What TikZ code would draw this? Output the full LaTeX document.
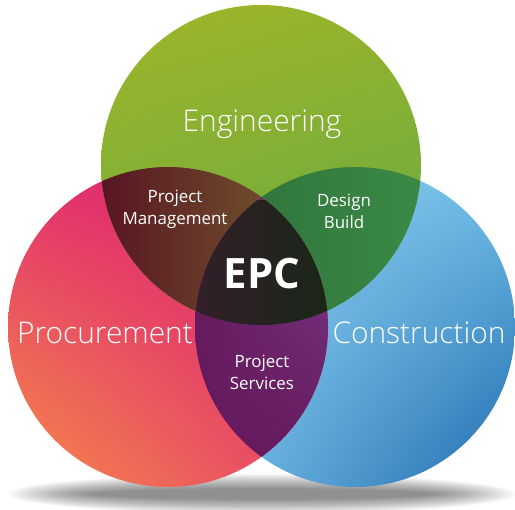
\documentclass[tikz,border=0pt]{standalone}
\usepackage{fontspec}
\usetikzlibrary{shadings}
\setmainfont{Open Sans}
\IfFontExistsTF{Open Sans Light}{\newfontfamily\lightfont{Open Sans Light}}{\newfontfamily\lightfont{Open Sans}}
\definecolor{gUL}{HTML}{9DB62A}
\definecolor{gUR}{HTML}{93B32D}
\definecolor{gLL}{HTML}{76AC3B}
\definecolor{gLR}{HTML}{64A844}
\definecolor{pUL}{HTML}{E2306D}
\definecolor{pUR}{HTML}{DC1A73}
\definecolor{pLL}{HTML}{F68C48}
\definecolor{pLR}{HTML}{E6416A}
\definecolor{bUL}{HTML}{92D2F1}
\definecolor{bUR}{HTML}{70BDE7}
\definecolor{bLL}{HTML}{78BFE9}
\definecolor{bLR}{HTML}{1F6BAE}
\definecolor{pmL}{HTML}{581522}
\definecolor{pmR}{HTML}{70502C}
\definecolor{dbC}{HTML}{3A8A46}
\definecolor{psL}{HTML}{661A5E}
\definecolor{psR}{HTML}{7C4390}
\definecolor{epcC}{HTML}{321F2A}
\tikzset{
  biglabel/.style={text=white, font=\lightfont\fontsize{30}{30}\selectfont, inner sep=0pt},
  smalllabel/.style={text=white, font=\fontsize{17}{22}\selectfont, align=center, inner sep=0pt},
  epclabel/.style={text=white, font=\bfseries\fontsize{42}{42}\selectfont, inner sep=0pt},
  shadowlayer/.style={fill=black, fill opacity=0.022}
}
\begin{document}
\begin{tikzpicture}[x=1bp,y=-1bp]
\useasboundingbox (0,0) rectangle (515,510);
% shadow
\foreach \i in {0,...,23}
  \fill[shadowlayer] (262,494) ellipse ({254-\i*3.6} and {20-\i*0.65});
% circles
\coordinate (G) at (261,165);
\coordinate (P) at (168,327);
\coordinate (B) at (355,327);
\shade[upper left=bUL, upper right=bUR, lower left=bLL, lower right=bLR] (B) circle (160);
\shade[upper left=pUL, upper right=pUR, lower left=pLL, lower right=pLR] (P) circle (160);
\shade[upper left=gUL, upper right=gUR, lower left=gLL, lower right=gLR] (G) circle (160);
% green & pink
\begin{scope}
\clip (G) circle (160);
\clip (P) circle (160);
\shade[left color=pmL, right color=pmR] (100,160) rectangle (275,330);
\end{scope}
% green & blue
\begin{scope}
\clip (G) circle (160);
\clip (B) circle (160);
\shade[left color=dbC!85!black, right color=dbC] (250,160) rectangle (425,330);
\end{scope}
% pink & blue
\begin{scope}
\clip (P) circle (160);
\clip (B) circle (160);
\shade[upper left=psL, upper right=psR, lower left=psL, lower right=psL] (195,160) rectangle (330,460);
\end{scope}
% centre
\begin{scope}
\clip (G) circle (160);
\clip (P) circle (160);
\clip (B) circle (160);
\shade[left color=epcC, right color=epcC!85!green!60!black] (195,200) rectangle (330,330);
\end{scope}
% labels
\node[biglabel] (eng) at (262,124) {Engineering};
\node[biglabel] (proc) at (105,333) {Procurement};
\node[biglabel] (cons) at (419,333) {Construction};
\node[smalllabel] (pm) at (175,209) {Project\\Management};
\node[smalllabel] (db) at (344,211) {Design\\Build};
\node[smalllabel] (ps) at (262,372) {Project\\Services};
\node[epclabel] (epc) at (262,274) {EPC};
\end{tikzpicture}
\end{document}
